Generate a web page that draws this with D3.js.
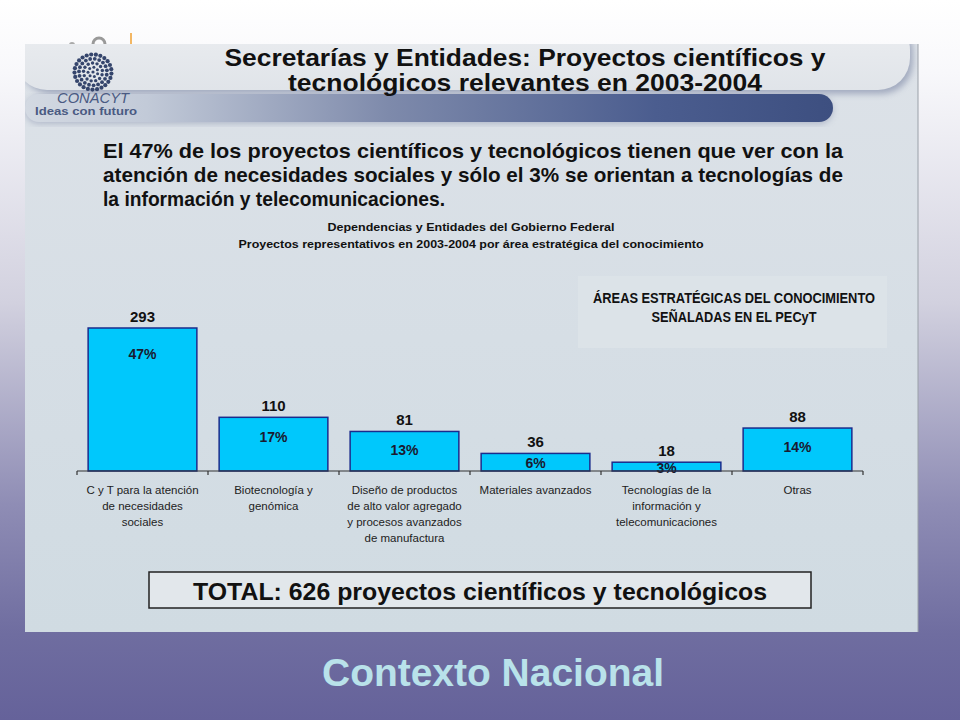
<!DOCTYPE html>
<html>
<head>
<meta charset="utf-8">
<script src="https://cdn.jsdelivr.net/npm/d3@7"></script>
<style>
  body { margin: 0; }
  svg { display: block; }
</style>
</head>
<body>
<div id="chart"></div>
<script>
// data
var categories = [
  "C y T para la atención|de necesidades|sociales",
  "Biotecnología y|genómica",
  "Diseño de productos|de alto valor agregado|y procesos avanzados|de manufactura",
  "Materiales avanzados",
  "Tecnologías de la|información y|telecomunicaciones",
  "Otras"
];
var values = [293, 110, 81, 36, 18, 88];
var percents = ["47%", "17%", "13%", "6%", "3%", "14%"];

var titleLines = ["Secretarías y Entidades: Proyectos científicos y", "tecnológicos relevantes en 2003-2004"];
var introLines = [
  "El 47% de los proyectos científicos y tecnológicos tienen que ver con la",
  "atención de necesidades sociales y sólo el 3% se orientan a tecnologías de",
  "la información y telecomunicaciones."
];
var subtitleLines = ["Dependencias y Entidades del Gobierno Federal", "Proyectos representativos en 2003-2004 por área estratégica del conocimiento"];
var boxLines = ["ÁREAS ESTRATÉGICAS DEL CONOCIMIENTO", "SEÑALADAS EN EL PECyT"];
var totalText = "TOTAL: 626 proyectos científicos y tecnológicos";
var footerText = "Contexto Nacional";

var W = 960, H = 720;
var font = "'Liberation Sans', Arial, Helvetica, sans-serif";

var svg = d3.select("#chart").append("svg")
  .attr("width", W).attr("height", H);

var defs = svg.append("defs");

// slide background
var bg = defs.append("linearGradient").attr("id", "bg")
  .attr("x1", 0).attr("y1", 0).attr("x2", 0).attr("y2", 1);
bg.append("stop").attr("offset", 0).attr("stop-color", "#ffffff");
bg.append("stop").attr("offset", 0.1).attr("stop-color", "#f8f8fb");
bg.append("stop").attr("offset", 0.42).attr("stop-color", "#d2d1df");
bg.append("stop").attr("offset", 0.7).attr("stop-color", "#8f8db5");
bg.append("stop").attr("offset", 0.88).attr("stop-color", "#6f6da0");
bg.append("stop").attr("offset", 1).attr("stop-color", "#65629a");

var pg = defs.append("linearGradient").attr("id", "panel")
  .attr("x1", 0).attr("y1", 0).attr("x2", 0).attr("y2", 1);
pg.append("stop").attr("offset", 0).attr("stop-color", "#dde2e8");
pg.append("stop").attr("offset", 0.5).attr("stop-color", "#d6dee5");
pg.append("stop").attr("offset", 1).attr("stop-color", "#d0dbe2");

var pill = defs.append("linearGradient").attr("id", "pill")
  .attr("x1", 0).attr("y1", 0).attr("x2", 0).attr("y2", 1);
pill.append("stop").attr("offset", 0).attr("stop-color", "#eceef1");
pill.append("stop").attr("offset", 1).attr("stop-color", "#e0e4e9");

var band = defs.append("linearGradient").attr("id", "band")
  .attr("x1", 0).attr("y1", 0).attr("x2", 1).attr("y2", 0);
band.append("stop").attr("offset", 0).attr("stop-color", "#d3d9e2");
band.append("stop").attr("offset", 0.15).attr("stop-color", "#c2cad8");
band.append("stop").attr("offset", 0.45).attr("stop-color", "#7e8aab");
band.append("stop").attr("offset", 0.78).attr("stop-color", "#4b5d8f");
band.append("stop").attr("offset", 1).attr("stop-color", "#3d4f80");

defs.append("filter").attr("id", "blur")
  .append("feGaussianBlur").attr("stdDeviation", 3);

defs.append("clipPath").attr("id", "panelClip")
  .append("rect").attr("x", 25).attr("y", 44).attr("width", 893).attr("height", 588);

svg.append("rect").attr("width", W).attr("height", H).attr("fill", "url(#bg)");

// small marks above the panel
svg.append("circle").attr("cx", 72).attr("cy", 45).attr("r", 3).attr("fill", "#aaaaaa");
svg.append("circle").attr("cx", 99).attr("cy", 44).attr("r", 6).attr("fill", "none")
  .attr("stroke", "#999999").attr("stroke-width", 3);
svg.append("line").attr("x1", 131).attr("x2", 131).attr("y1", 33).attr("y2", 46)
  .attr("stroke", "#f0a030").attr("stroke-width", 1.5);

// panel
svg.append("rect").attr("x", 25).attr("y", 44).attr("width", 893).attr("height", 588)
  .attr("fill", "url(#panel)");
svg.append("line").attr("x1", 918).attr("x2", 918).attr("y1", 44).attr("y2", 632)
  .attr("stroke", "#9aa0a8").attr("stroke-width", 1);

var deco = svg.append("g").attr("clip-path", "url(#panelClip)");
deco.append("rect").attr("x", 20).attr("y", 20).attr("width", 893).attr("height", 74)
  .attr("rx", 32).attr("fill", "#7c86a4").attr("filter", "url(#blur)").attr("opacity", 0.6);
deco.append("rect").attr("x", 15).attr("y", 18).attr("width", 895).attr("height", 72)
  .attr("rx", 32).attr("fill", "url(#pill)");
deco.append("rect").attr("x", 25).attr("y", 96).attr("width", 808).attr("height", 28)
  .attr("rx", 14).attr("fill", "#8892ad").attr("filter", "url(#blur)").attr("opacity", 0.5);
deco.append("rect").attr("x", 25).attr("y", 94).attr("width", 808).attr("height", 28)
  .attr("rx", 14).attr("fill", "url(#band)");

// logo
var logo = svg.append("g").attr("transform", "translate(93,72)");
[[0, 1, 1.6], [5, 7, 1.5], [9.5, 13, 1.7], [14, 19, 1.9], [18.5, 25, 2.1]].forEach(function(r, k) {
  d3.range(r[1]).forEach(function(j) {
    var a = 2 * Math.PI * j / r[1] + k * 0.4;
    logo.append("circle")
      .attr("cx", r[0] * Math.cos(a)).attr("cy", r[0] * Math.sin(a) * 0.95)
      .attr("r", r[2]).attr("fill", "#35456c");
  });
});
svg.append("text").attr("x", 93).attr("y", 103).attr("text-anchor", "middle")
  .attr("font-family", font).attr("font-size", 15).attr("font-style", "italic").attr("fill", "#4a5a82")
  .attr("textLength", 72).attr("lengthAdjust", "spacingAndGlyphs").text("CONACYT");
svg.append("text").attr("x", 86).attr("y", 115).attr("text-anchor", "middle")
  .attr("font-family", font).attr("font-size", 11).attr("font-weight", "bold").attr("fill", "#4a5a82")
  .attr("textLength", 102).attr("lengthAdjust", "spacingAndGlyphs").text("Ideas con futuro");

// title
var titleW = [601, 474];
titleLines.forEach(function(t, i) {
  svg.append("text").attr("x", 525).attr("y", 66 + i * 25).attr("text-anchor", "middle")
    .attr("font-family", font).attr("font-size", 24).attr("font-weight", "bold").attr("fill", "#111")
    .attr("textLength", titleW[i]).attr("lengthAdjust", "spacingAndGlyphs").text(t);
});

// intro paragraph (justified lines)
var introW = [740, 740, 342];
introLines.forEach(function(t, i) {
  svg.append("text").attr("x", 103).attr("y", 158 + i * 24)
    .attr("font-family", font).attr("font-size", 20.5).attr("font-weight", "bold").attr("fill", "#111")
    .attr("textLength", introW[i]).attr("lengthAdjust", "spacingAndGlyphs")
    .text(t);
});

var subW = [287, 465];
subtitleLines.forEach(function(t, i) {
  svg.append("text").attr("x", 471).attr("y", 231 + i * 17).attr("text-anchor", "middle")
    .attr("font-family", font).attr("font-size", 11.5).attr("font-weight", "bold").attr("fill", "#111")
    .attr("textLength", subW[i]).attr("lengthAdjust", "spacingAndGlyphs").text(t);
});

// strategic areas box
svg.append("rect").attr("x", 578).attr("y", 276).attr("width", 309).attr("height", 72)
  .attr("fill", "#dde3e8").attr("opacity", 0.8);
var boxW = [282, 165];
boxLines.forEach(function(t, i) {
  svg.append("text").attr("x", 734).attr("y", 303 + i * 19).attr("text-anchor", "middle")
    .attr("font-family", font).attr("font-size", 14.5).attr("font-weight", "bold").attr("fill", "#111")
    .attr("textLength", boxW[i]).attr("lengthAdjust", "spacingAndGlyphs").text(t);
});

// bar chart
var x = d3.scaleBand().domain(categories).range([77, 863]).paddingInner(0.17).paddingOuter(0.085);
var y = d3.scaleLinear().domain([0, 293]).range([471, 328]);

var g = svg.append("g");

g.selectAll("rect.bar").data(values).enter().append("rect")
  .attr("class", "bar")
  .attr("x", function(d, i) { return x(categories[i]); })
  .attr("y", function(d) { return y(d); })
  .attr("width", x.bandwidth())
  .attr("height", function(d) { return y(0) - y(d); })
  .attr("fill", "#00c8fc")
  .attr("stroke", "#1a2c8c")
  .attr("stroke-width", 1.5);

g.selectAll("text.val").data(values).enter().append("text")
  .attr("class", "val")
  .attr("x", function(d, i) { return x(categories[i]) + x.bandwidth() / 2; })
  .attr("y", function(d) { return y(d) - 6; })
  .attr("text-anchor", "middle")
  .attr("font-family", font).attr("font-size", 15).attr("font-weight", "bold").attr("fill", "#111")
  .text(function(d) { return d; });

g.selectAll("text.pct").data(values).enter().append("text")
  .attr("class", "pct")
  .attr("x", function(d, i) { return x(categories[i]) + x.bandwidth() / 2; })
  .attr("y", function(d) {
    var h = y(0) - y(d);
    return y(d) + Math.max(11, Math.min(h - 3, 21 + 0.07 * h));
  })
  .attr("text-anchor", "middle")
  .attr("font-family", font).attr("font-size", 14).attr("font-weight", "bold").attr("fill", "#1a1a30")
  .text(function(d, i) { return percents[i]; });

// axis with ticks at band boundaries
var axis = g.append("g");
axis.append("line").attr("x1", 77).attr("x2", 863).attr("y1", y(0)).attr("y2", y(0))
  .attr("stroke", "#333").attr("stroke-width", 1.2);
var bounds = categories.map(function(c) { return x(c) - x.step() * x.paddingInner() / 2; });
bounds[0] = 77;
bounds.push(863);
axis.selectAll("line.tick").data(bounds).enter().append("line")
  .attr("class", "tick")
  .attr("x1", function(d) { return d; }).attr("x2", function(d) { return d; })
  .attr("y1", y(0)).attr("y2", y(0) + 4)
  .attr("stroke", "#333").attr("stroke-width", 1.2);

categories.forEach(function(c, i) {
  var t = g.append("text").attr("text-anchor", "middle")
    .attr("font-family", font).attr("font-size", 11.5).attr("fill", "#222");
  c.split("|").forEach(function(line, j) {
    t.append("tspan").attr("x", x(c) + x.bandwidth() / 2).attr("y", 494 + j * 16).text(line);
  });
});

// total box
svg.append("rect").attr("x", 149).attr("y", 572).attr("width", 662).attr("height", 36)
  .attr("fill", "#e2e7eb").attr("stroke", "#222").attr("stroke-width", 1.5);
svg.append("text").attr("x", 480).attr("y", 600).attr("text-anchor", "middle")
  .attr("font-family", font).attr("font-size", 23).attr("font-weight", "bold").attr("fill", "#111")
  .attr("textLength", 574).attr("lengthAdjust", "spacingAndGlyphs").text(totalText);

// footer
svg.append("text").attr("x", 493).attr("y", 686).attr("text-anchor", "middle")
  .attr("font-family", font).attr("font-size", 38).attr("font-weight", "bold").attr("fill", "#b9e2ea")
  .attr("textLength", 342).attr("lengthAdjust", "spacingAndGlyphs").text(footerText);
</script>
</body>
</html>
